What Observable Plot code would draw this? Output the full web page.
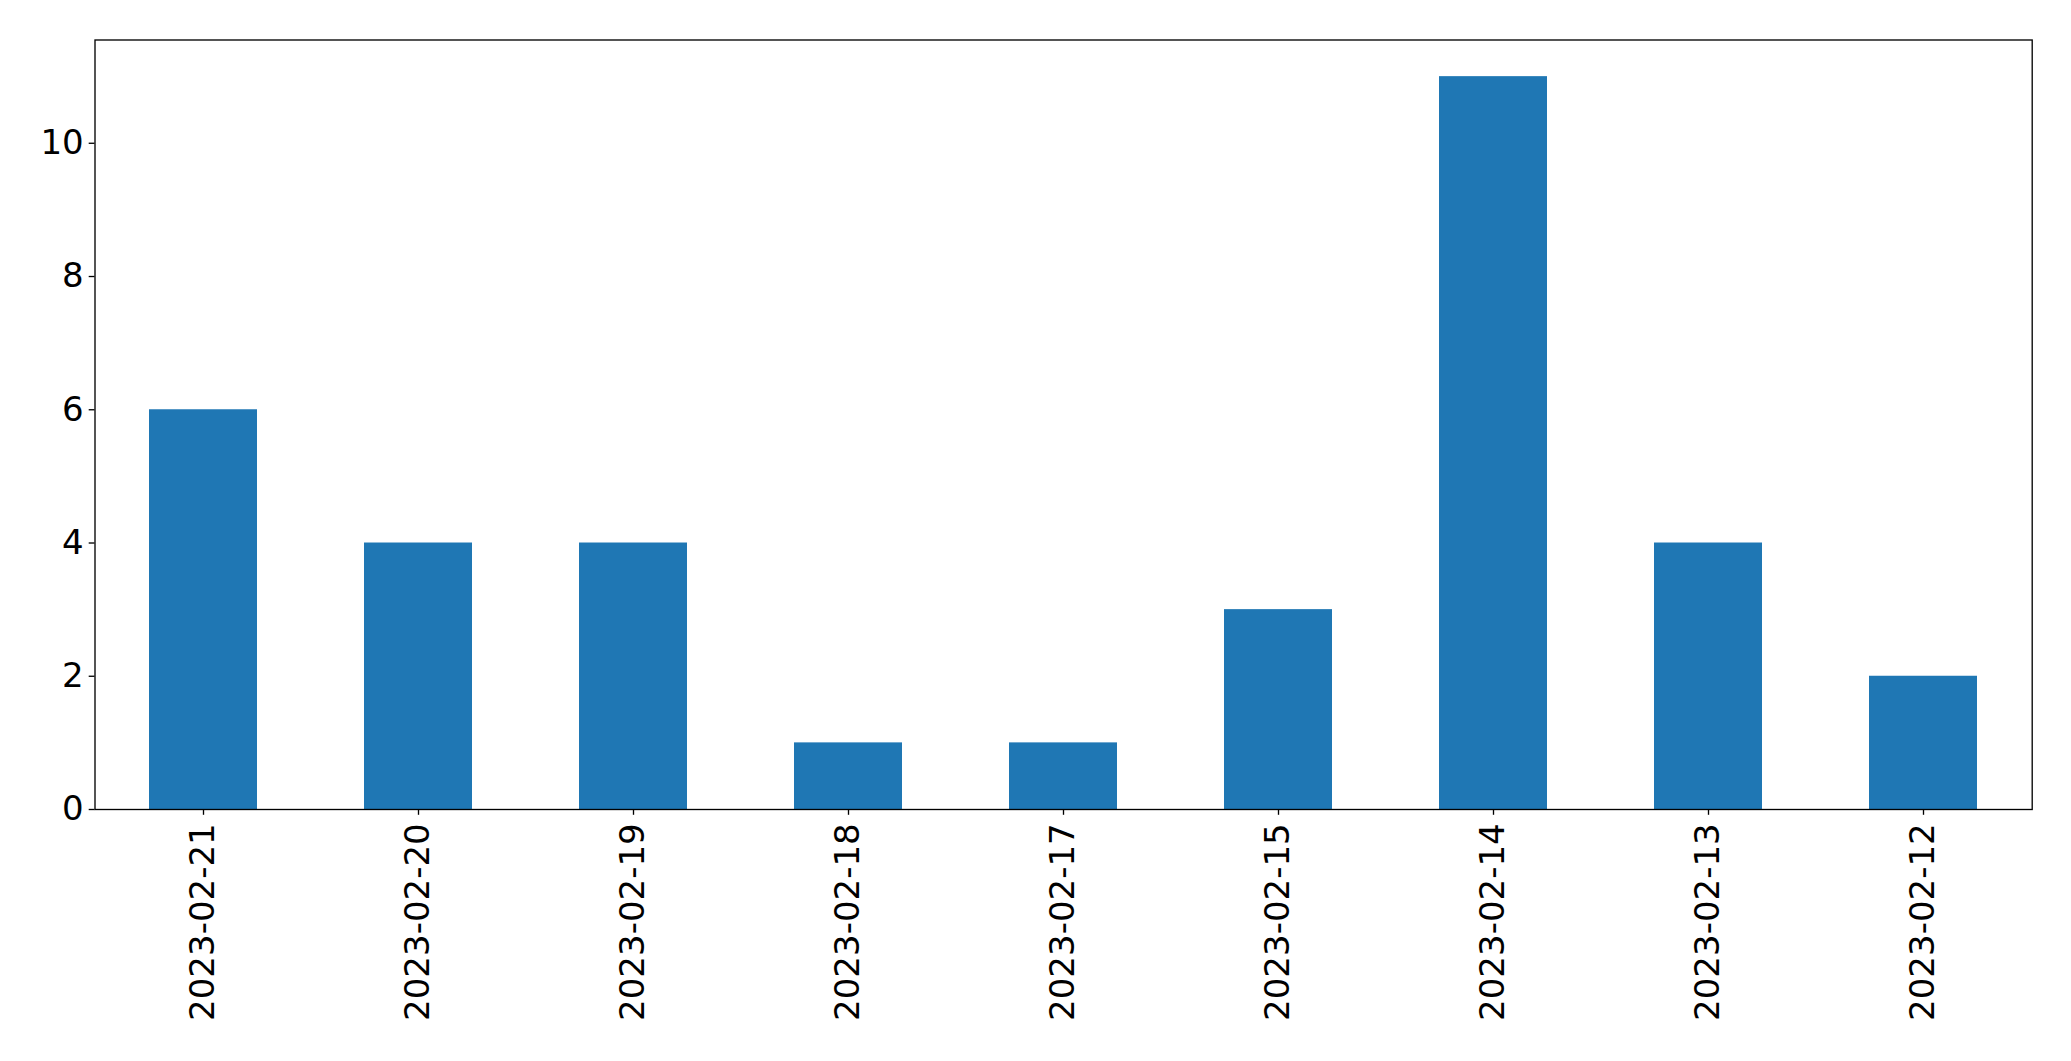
<!DOCTYPE html>
<html>
<head>
<meta charset="utf-8">
<script src="https://cdn.jsdelivr.net/npm/d3@7"></script>
<script src="https://cdn.jsdelivr.net/npm/@observablehq/plot@0.6"></script>
<style>
  html, body { margin: 0; padding: 0; background: #fff; }
  #chart svg { display: block; }
</style>
</head>
<body>
<div id="chart"></div>
<script>
const dates = ["2023-02-21","2023-02-20","2023-02-19","2023-02-18","2023-02-17","2023-02-15","2023-02-14","2023-02-13","2023-02-12"];
const counts = [6, 4, 4, 1, 1, 3, 11, 4, 2];
const yTicks = [0, 2, 4, 6, 8, 10];

const data = dates.map((d, i) => ({date: d, count: counts[i]}));

const chart = Plot.plot({
  width: 2071,
  height: 1061,
  marginLeft: 94.5,
  marginRight: 39.3,
  marginTop: 39.5,
  marginBottom: 252,
  style: {fontFamily: "DejaVu Sans", fontSize: "34px", color: "black", background: "white"},
  x: {domain: dates, paddingInner: 0.5, paddingOuter: 0.25, align: 0.5},
  y: {domain: [0, 11.55]},
  marks: [
    Plot.barY(data, {x: "date", y: "count", fill: "#1f77b4"}),
    Plot.frame({stroke: "black", strokeWidth: 1.33}),
    Plot.axisY({ticks: yTicks, tickSize: 5.8, tickPadding: 5.5, strokeWidth: 1.33, fontSize: 34, label: null, tickFormat: d => String(d)}),
    Plot.axisX({tickRotate: -90, tickSize: 5.8, tickPadding: 8, strokeWidth: 1.33, fontSize: 34, label: null})
  ]
});
document.getElementById("chart").appendChild(chart);
</script>
</body>
</html>
